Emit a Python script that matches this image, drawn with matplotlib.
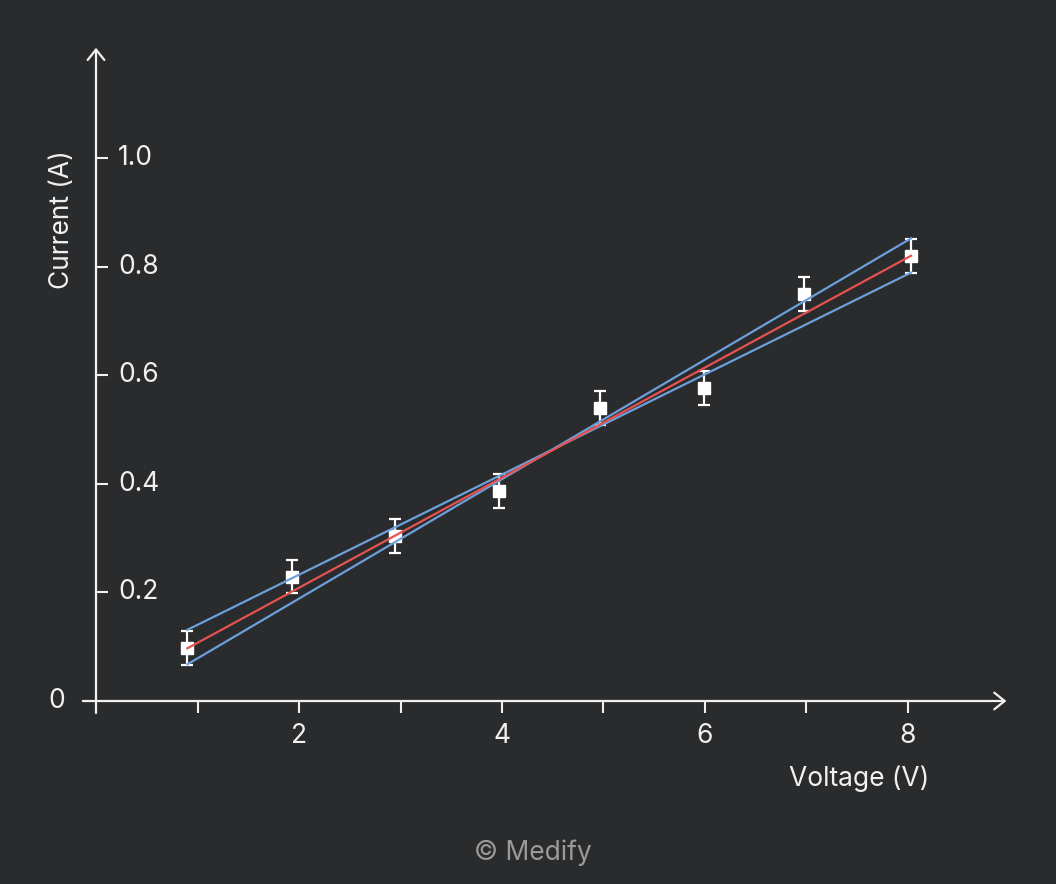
import matplotlib
matplotlib.use('Agg')
import matplotlib.pyplot as plt

plt.rcParams['font.family'] = ['Inter', 'DejaVu Sans']

BG = "#2a2b2d"
FG = "#f0f0f0"
RED = "#e5524f"
BLUE = "#6d9fda"
FS = 19

# measured data
voltage = [0.9, 1.93, 2.95, 3.97, 4.97, 5.99, 6.98, 8.03]
current = [0.097, 0.229, 0.304, 0.387, 0.539, 0.576, 0.750, 0.820]
current_err = [0.031] * 8

# best fit and max/min slope lines (end points)
fit_x = [0.9, 8.03]
best_y = [0.097, 0.820]
steep_y = [0.0675, 0.852]
shallow_y = [0.131, 0.789]

x_ticks = [1, 2, 3, 4, 5, 6, 7, 8]
x_labels = ["", "2", "", "4", "", "6", "", "8"]
y_ticks = [0.2, 0.4, 0.6, 0.8, 1.0]
y_labels = ["0.2", "0.4", "0.6", "0.8", "1.0"]

fig = plt.figure(figsize=(10.56, 8.84), dpi=100, facecolor=BG)
ax = fig.add_axes([0.03324, 0.14559, 0.95156, 0.82924])
ax.set_facecolor(BG)
ax.set_xlim(-0.6, 9.3)
ax.set_ylim(-0.1, 1.25)

for s in ax.spines.values():
    s.set_visible(False)
ax.spines['left'].set_position(('data', 0))
ax.spines['bottom'].set_position(('data', 0))

# axes with arrows
arrow = dict(arrowstyle='->,head_length=0.5,head_width=0.4', lw=1.6, color=FG,
             mutation_scale=15, shrinkA=0, shrinkB=0)
ax.annotate("", xy=(8.97, 0), xytext=(-0.13, 0), arrowprops=arrow)
ax.annotate("", xy=(0, 1.203), xytext=(0, -0.022), arrowprops=arrow)

ax.set_xticks(x_ticks)
ax.set_xticklabels(x_labels)
ax.tick_params(axis='x', direction='out', length=8.6, width=1.5, color=FG,
               labelcolor=FG, labelsize=FS, pad=7)
ax.set_yticks(y_ticks)
ax.set_yticklabels([])
ax.tick_params(axis='y', direction='in', length=8.6, width=1.5, color=FG)
for yt, lab in zip(y_ticks, y_labels):
    ax.annotate(lab, xy=(0, yt), xytext=(16, 0), textcoords='offset points',
                ha='left', va='center', color=FG, fontsize=FS)
ax.annotate("0", xy=(0, 0), xytext=(-28.5, 0), textcoords='offset points',
            ha='center', va='center', color=FG, fontsize=FS)

# data with error bars
ax.errorbar(voltage, current, yerr=current_err, fmt='s', color='white',
            markersize=8.5, ecolor='white', elinewidth=1.6, capsize=4.5,
            capthick=1.6, zorder=3)

ax.plot(fit_x, steep_y, color=BLUE, lw=1.6, zorder=4)
ax.plot(fit_x, shallow_y, color=BLUE, lw=1.6, zorder=4)
ax.plot(fit_x, best_y, color=RED, lw=1.6, zorder=5)

fig.text(859.5 / 1056, 1 - 779 / 884, "Voltage (V)", ha='center', va='center',
         color=FG, fontsize=FS)
fig.text(62 / 1056, 1 - 220 / 884, "Current (A)", ha='center', va='center',
         rotation=90, color=FG, fontsize=FS)
fig.text(533 / 1056, 1 - 853 / 884, "© Medify", ha='center', va='center',
         color="#9a9a9a", fontsize=FS)

plt.savefig("out.png", dpi=100, facecolor=BG)
plt.close()
